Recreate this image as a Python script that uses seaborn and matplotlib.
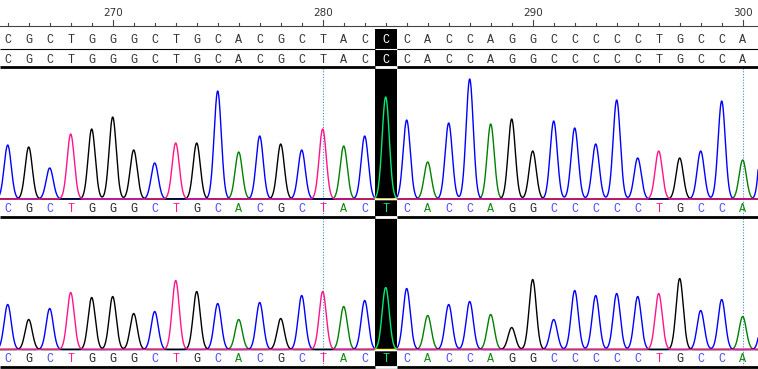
import numpy as np
import pandas as pd
import matplotlib
matplotlib.use("Agg")
from matplotlib import pyplot as plt
import seaborn as sns

# ---- data ----
start_pos = 265
ref_seq = list("CGCTGGGCTGCACGCTACCCACCAGGCCCCCTGCCAC")     # two reference rows (265-301)
call_seq_1 = list("CGCTGGGCTGCACGCTACTCACCAGGCCCCCTGCCAC")  # base calls, trace 1
call_seq_2 = list("CGCTGGGCTGCACGCTACTCACCAGGCCCCCTGCCAC")  # base calls, trace 2
peak_h_1 = [54, 52, 31, 65, 70, 82, 49, 36, 56, 56, 108, 47,
            63, 55, 49, 70, 53, 63, 102, 79, 37, 76, 120, 75,
            80, 48, 78, 71, 55, 99, 41, 48, 41, 48, 98, 39, 100]
peak_h_2 = [45, 30, 41, 57, 52, 53, 36, 38, 69, 58, 46, 30,
            47, 31, 54, 58, 43, 49, 62, 61, 34, 45, 48, 35,
            22, 70, 30, 59, 54, 56, 53, 56, 71, 39, 50, 33, 40]
ruler_labels = [270, 280, 290, 300]
marked_pos = [280, 300]
highlight_pos = 283
last_letter_pos = 300  # base 301 only shows as a peak at the right edge

positions = np.arange(start_pos, start_pos + len(ref_seq))

# ---- style ----
trace_colors = {"A": "#008000", "C": "#0000ff", "G": "#000000", "T": "#ff148c"}
inv_colors = {"A": "#ff7fff", "C": "#ffff00", "G": "#ffffff", "T": "#00eb73"}
letter_colors = {"A": "#108a10", "C": "#4a4aff", "G": "#222222", "T": "#ff1a8c"}
order = ["A", "C", "G", "T"]
px_per_base = 21.0
x0 = 270 - 112.7 / px_per_base
W, H = 758, 369
sigma = 0.17
seq_font = dict(family="Liberation Mono", fontsize=8.5)

fig = plt.figure(figsize=(W / 100, H / 100), dpi=100)
ax = fig.add_axes([0, 0, 1, 1])
ax.set_xlim(x0, x0 + W / px_per_base)
ax.set_ylim(H, 0)
ax.axis("off")

grid = np.linspace(start_pos - 1, positions[-1] + 1, 3000)


def trace_frame(calls, heights, baseline):
    rows = []
    for b in order:
        sig = np.zeros_like(grid)
        for p, c, h in zip(positions, calls, heights):
            if c == b:
                sig += h * np.exp(-(grid - p) ** 2 / (2 * sigma ** 2))
        rows.append(pd.DataFrame({"x": grid, "y": baseline - sig, "base": b}))
    return pd.concat(rows, ignore_index=True)


hl_lo, hl_hi = highlight_pos - 0.49, highlight_pos + 0.52
panels = [(call_seq_1, peak_h_1, 199.0, 209.0), (call_seq_2, peak_h_2, 349.5, 359.0)]
for calls, heights, base_y, text_y in panels:
    df = trace_frame(calls, heights, base_y)
    sns.lineplot(data=df, x="x", y="y", hue="base", hue_order=order,
                 palette=trace_colors, legend=False, ax=ax, linewidth=1.0,
                 estimator=None, zorder=2)
    inside = df[(df["x"] >= hl_lo) & (df["x"] <= hl_hi)]
    sns.lineplot(data=inside, x="x", y="y", hue="base", hue_order=order,
                 palette=inv_colors, legend=False, ax=ax, linewidth=1.0,
                 estimator=None, zorder=5)
    for p, c in zip(positions, calls):
        if p > last_letter_pos:
            continue
        col = inv_colors[c] if p == highlight_pos else letter_colors[c]
        ax.text(p, text_y, c, ha="center", va="center", color=col, zorder=6, **seq_font)

# highlight column
ax.fill_between([hl_lo, hl_hi], 29.3, H, color="black", zorder=4, linewidth=0)

# ruler
ax.plot([x0, x0 + W / px_per_base], [26, 26], color="#444444", lw=0.8, zorder=3)
for p in positions:
    top = 19.5 if p % 10 == 0 else 22.5
    ax.plot([p, p], [top, 26], color="#444444", lw=0.8, zorder=3)
for lab in ruler_labels:
    ax.text(lab, 13, str(lab), ha="center", va="center", family="DejaVu Sans",
            fontsize=7.5, color="#333333")

# reference rows
for row_y in [40, 60]:
    for p, c in zip(positions, ref_seq):
        if p > last_letter_pos:
            continue
        col = "white" if p == highlight_pos else "#333333"
        ax.text(p, row_y, c, ha="center", va="center", color=col, zorder=6, **seq_font)

# separator lines
xl = [x0, x0 + W / px_per_base]
for y, lw in [(49.3, 0.8), (66.7, 2.0), (216.7, 2.0), (366.8, 2.0)]:
    ax.plot(xl, [y, y], color="black", lw=lw, zorder=3, solid_capstyle="butt")
    ax.plot([hl_lo, hl_hi], [y, y], color="white", lw=lw, zorder=5, solid_capstyle="butt")

# dotted markers
for p in marked_pos:
    for y_a, y_b in [(68, 215.5), (218, 365.5)]:
        ax.plot([p, p], [y_a, y_b], color="#3c8dcc", lw=0.8, ls=(0, (1, 1.5)), zorder=1)

plt.savefig("out.png", dpi=100)
